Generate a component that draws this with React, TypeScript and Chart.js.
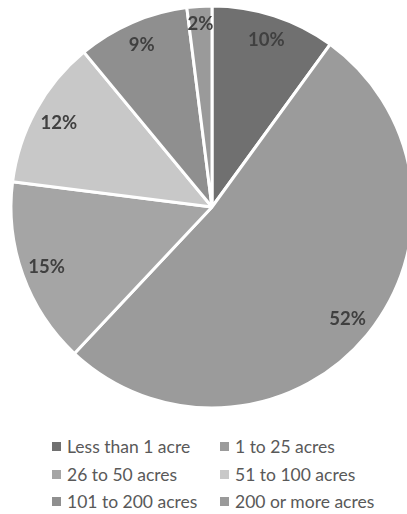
import React, { useEffect, useRef } from "react";
import { Chart, registerables } from "chart.js";

Chart.register(...registerables);

const categories = [
  "Less than 1 acre",
  "1 to 25 acres",
  "26 to 50 acres",
  "51 to 100 acres",
  "101 to 200 acres",
  "200 or more acres",
];
const shares = [10, 52, 15, 12, 9, 2];
const sliceColors = ["#707070", "#9b9b9b", "#a5a5a5", "#c8c8c8", "#8f8f8f", "#9a9a9a"];
const labelRadius = [0.875, 0.875, 0.875, 0.87, 0.88, 0.91];

const FONT = "Lato, 'Noto Sans', sans-serif";

const pctLabels = {
  id: "pctLabels",
  afterDatasetsDraw(chart: any) {
    const ctx = chart.ctx;
    const meta = chart.getDatasetMeta(0);
    ctx.save();
    ctx.font = `bold 18.5px ${FONT}`;
    ctx.fillStyle = "#404040";
    ctx.textAlign = "center";
    ctx.textBaseline = "middle";
    meta.data.forEach((arc: any, i: number) => {
      const p = arc.getProps(["x", "y", "startAngle", "endAngle", "outerRadius"], true);
      const mid = (p.startAngle + p.endAngle) / 2;
      const r = p.outerRadius * labelRadius[i];
      ctx.fillText(`${shares[i]}%`, p.x + Math.cos(mid) * r, p.y + Math.sin(mid) * r);
    });
    ctx.restore();
  },
};

export default function App() {
  const canvasRef = useRef<HTMLCanvasElement>(null);

  useEffect(() => {
    const chart = new Chart(canvasRef.current!, {
      type: "pie",
      data: {
        labels: categories,
        datasets: [
          {
            data: shares,
            backgroundColor: sliceColors,
            borderColor: "#ffffff",
            borderWidth: 3,
          },
        ],
      },
      options: {
        responsive: false,
        animation: false,
        radius: 201,
        layout: { padding: 0 },
        plugins: {
          legend: { display: false },
          tooltip: { enabled: false },
        },
      } as any,
      plugins: [pctLabels],
    });
    return () => chart.destroy();
  }, []);

  return (
    <div
      style={{
        position: "absolute",
        left: 0,
        top: 0,
        width: 407,
        height: 514,
        overflow: "hidden",
        background: "#ffffff",
      }}
    >
      <canvas
        ref={canvasRef}
        width={424}
        height={414}
        style={{ position: "absolute", left: 0, top: 0, width: 424, height: 414 }}
      />
      <div
        style={{
          position: "absolute",
          left: 52,
          top: 433,
          display: "grid",
          gridTemplateColumns: "168px 170px",
          gridAutoRows: "27.5px",
          fontFamily: FONT,
          fontSize: 17.5,
          color: "#595959",
        }}
      >
        {categories.map((c, i) => (
          <div key={c} style={{ display: "flex", alignItems: "center", whiteSpace: "nowrap" }}>
            <span
              style={{
                display: "inline-block",
                width: 9,
                height: 9,
                background: sliceColors[i],
                marginRight: 6,
              }}
            />
            <span>{c}</span>
          </div>
        ))}
      </div>
    </div>
  );
}
